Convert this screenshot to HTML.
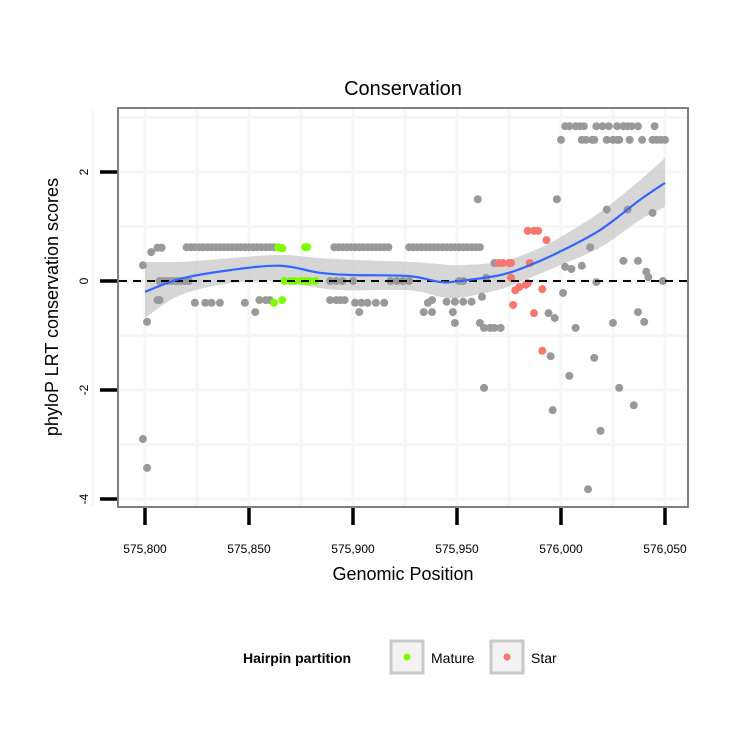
<!DOCTYPE html>
<html><head><meta charset="utf-8"><style>
body{margin:0;background:#fff;font-family:"Liberation Sans",sans-serif}
</style></head><body>
<svg id="chart" width="750" height="750" xmlns="http://www.w3.org/2000/svg">
<rect width="750" height="750" fill="#fff"/>
<g id="grid"></g><g id="band"></g><g id="pts"></g><g id="fit"></g><g id="axes"></g>
<text x="403" y="95" font-size="20" text-anchor="middle">Conservation</text>
<text x="403" y="580" font-size="18" text-anchor="middle">Genomic Position</text>
<text transform="translate(58,307) rotate(-90)" font-size="18" text-anchor="middle">phyloP LRT conservation scores</text>
<g>
<text x="243" y="663" font-size="14" font-weight="bold">Hairpin partition</text>
<g><rect x="391" y="641" width="32" height="32" fill="#f2f2f2" stroke="#c8c8c8" stroke-width="3"/><circle cx="407" cy="657" r="3.5" fill="#7cfc00"/><text x="431" y="663" font-size="14">Mature</text></g>
<g><rect x="491" y="641" width="32" height="32" fill="#f2f2f2" stroke="#c8c8c8" stroke-width="3"/><circle cx="507" cy="657" r="3.5" fill="#f8766d"/><text x="531" y="663" font-size="14">Star</text></g>
</g>
</svg>
<script>
const xTicks=[575800,575850,575900,575950,576000,576050];
const xTickLabels=["575,800","575,850","575,900","575,950","576,000","576,050"];
const yTicks=[2,0,-2,-4];
const yTickLabels=["2","0","-2","-4"];
const grayX=[576002,576004,576007,576009,576011,576017,576020,576023,576027,576030,576032,576034,576037,576045,
576000,576010,576012,576015,576016,576022,576025,576027,576028,576033,576039,576044,576046,576048,576050,
575960,575998,576022,576032,576044,576014,576030,576037,576041,576042,576049,576017,576010,576002,576005,576001,
575803,575806,575808,575799,
575820,575822,575824,575826,575828,575830,575832,575834,575836,575838,575840,575842,575844,575846,575848,575850,575852,575854,575856,575858,575860,575862,
575891,575893,575895,575897,575899,575901,575903,575905,575907,575909,575911,575913,575915,575917,
575927,575929,575931,575933,575935,575937,575939,575941,575943,575945,575947,575949,575951,575953,575955,575957,575959,575961,
575807,575809,575811,575813,575815,575817,575819,575821,575889,575892,575895,575900,575918,575921,575924,575927,575951,575953,
575806,575807,575824,575829,575832,575836,575848,575853,575855,575858,575860,575889,575892,575894,575896,575901,575904,575907,575911,575915,575903,
575938,575936,575934,575938,575945,575949,575953,575957,575948,575949,575961,575963,575966,575968,575971,575962,575968,575964,
575994,575997,576007,576025,576037,576040,575995,576016,576004,576028,576035,575963,575996,576019,576013,575801,575799,575801];
const grayY=[2.84,2.84,2.84,2.84,2.84,2.84,2.84,2.84,2.84,2.84,2.84,2.84,2.84,2.84,
2.59,2.59,2.59,2.59,2.59,2.59,2.59,2.59,2.59,2.59,2.59,2.59,2.59,2.59,2.59,
1.5,1.5,1.31,1.31,1.25,0.62,0.37,0.37,0.17,0.07,0,-0.02,0.28,0.26,0.22,-0.22,
0.53,0.61,0.61,0.29,
0.62,0.62,0.62,0.62,0.62,0.62,0.62,0.62,0.62,0.62,0.62,0.62,0.62,0.62,0.62,0.62,0.62,0.62,0.62,0.62,0.62,0.62,
0.62,0.62,0.62,0.62,0.62,0.62,0.62,0.62,0.62,0.62,0.62,0.62,0.62,0.62,
0.62,0.62,0.62,0.62,0.62,0.62,0.62,0.62,0.62,0.62,0.62,0.62,0.62,0.62,0.62,0.62,0.62,0.62,
0,0,0,0,0,0,0,0,0,0,0,0,0,0,0,0,0,0,
-0.35,-0.35,-0.4,-0.4,-0.4,-0.4,-0.4,-0.57,-0.35,-0.35,-0.35,-0.35,-0.35,-0.35,-0.35,-0.4,-0.4,-0.4,-0.4,-0.4,-0.57,
-0.35,-0.4,-0.57,-0.57,-0.38,-0.38,-0.38,-0.38,-0.57,-0.77,-0.77,-0.86,-0.86,-0.86,-0.86,-0.29,0.33,0.06,
-0.59,-0.68,-0.86,-0.77,-0.57,-0.75,-1.38,-1.41,-1.74,-1.96,-2.28,-1.96,-2.37,-2.75,-3.82,-0.75,-2.9,-3.43];
const starX=[575984,575987,575989,575993,575970,575972,575975,575976,575985,575976,575978,575980,575983,575984,575991,575977,575987,575991];
const starY=[0.92,0.92,0.92,0.75,0.33,0.33,0.33,0.33,0.33,0.06,-0.17,-0.11,-0.07,-0.04,-0.15,-0.44,-0.59,-1.28];
const matureX=[575864,575866,575878,575877,575867,575870,575872,575875,575877,575879,575882,575862,575866];
const matureY=[0.62,0.6,0.62,0.62,0,0,0,0,0,0,0,-0.4,-0.35];
const fitX=[575800,575817,575841,575865,575884,575899,575927,575942,575951,575971,575985,575999,576019,576038,576050];
const fitY=[-0.2,0.04,0.2,0.28,0.15,0.11,0.09,-0.02,0,0.11,0.29,0.53,0.94,1.49,1.8];
const fitUpper=[0.35,0.35,0.42,0.48,0.42,0.39,0.35,0.31,0.29,0.35,0.53,0.79,1.27,1.85,2.26];
const fitLower=[-0.68,-0.26,-0.04,0,-0.13,-0.17,-0.17,-0.29,-0.31,-0.15,0.06,0.28,0.62,1.12,1.36];

const NS="http://www.w3.org/2000/svg";
const X=v=>145+(v-575800)*2.08;
const Y=v=>281-v*54.5;
function mk(t,a,p){const e=document.createElementNS(NS,t);for(const k in a)e.setAttribute(k,a[k]);p.appendChild(e);return e;}
function smooth(P,start){let d=start?'M'+P[0][0]+','+P[0][1]:'L'+P[0][0]+','+P[0][1];
for(let i=0;i<P.length-1;i++){const p0=P[Math.max(i-1,0)],p1=P[i],p2=P[i+1],p3=P[Math.min(i+2,P.length-1)];
d+=`C${p1[0]+(p2[0]-p0[0])/6},${p1[1]+(p2[1]-p0[1])/6} ${p2[0]-(p3[0]-p1[0])/6},${p2[1]-(p3[1]-p1[1])/6} ${p2[0]},${p2[1]}`;}return d;}
const grid=document.getElementById('grid');
mk('rect',{x:118,y:108,width:570,height:399,fill:'#fff'},grid);
[575775,575800,575825,575850,575875,575900,575925,575950,575975,576000,576025,576050].forEach(v=>{const l=mk('line',{x1:X(v),x2:X(v),y1:109,y2:506,stroke:'#f6f6f6','stroke-width':3},grid);

});
[3,2,1,0,-1,-2,-3,-4].forEach(v=>{const l=mk('line',{x1:119,x2:687,y1:Y(v),y2:Y(v),stroke:'#f6f6f6','stroke-width':3},grid);

});
const up=fitX.map((x,i)=>[X(x),Y(fitUpper[i])]);
const lo=fitX.map((x,i)=>[X(x),Y(fitLower[i])]).reverse();
const band=mk('path',{d:smooth(up,true)+smooth(lo,false)+'Z',fill:'#c8c8c8','fill-opacity':0.75},document.getElementById('band'));


const zl=mk('line',{x1:119,x2:687,y1:Y(0),y2:Y(0),stroke:'#000','stroke-width':2,'stroke-dasharray':'8,6'},document.getElementById('fit'));


const pts=document.getElementById('pts');
grayX.forEach((x,i)=>{const c=mk('circle',{cx:X(x),cy:Y(grayY[i]),r:4,fill:'#999'},pts);

});
matureX.forEach((x,i)=>{const c=mk('circle',{cx:X(x),cy:Y(matureY[i]),r:4,fill:'#7cfc00'},pts);

});
starX.forEach((x,i)=>{const c=mk('circle',{cx:X(x),cy:Y(starY[i]),r:4,fill:'#f8766d'},pts);

});
const fit=document.getElementById('fit');
const fl=mk('path',{d:smooth(fitX.map((x,i)=>[X(x),Y(fitY[i])]),true),fill:'none',stroke:'#3366ff','stroke-width':2.2},fit);


const ax=document.getElementById('axes');
const fr=mk('rect',{x:118,y:108,width:570,height:399,fill:'none',stroke:'#7f7f7f','stroke-width':2},ax);


xTicks.forEach((v,i)=>{const t=mk('line',{x1:X(v),x2:X(v),y1:508,y2:525,stroke:'#000','stroke-width':3.5},ax);


const l=mk('text',{x:X(v),y:553,'font-size':12,'text-anchor':'middle'},ax);l.textContent=xTickLabels[i];

});
yTicks.forEach((v,i)=>{const t=mk('line',{x1:100,x2:117,y1:Y(v),y2:Y(v),stroke:'#000','stroke-width':3.5},ax);


const l=mk('text',{transform:`translate(88,${Y(v)}) rotate(-90)`,'font-size':12,'text-anchor':'middle'},ax);l.textContent=yTickLabels[i];

});
</script>
</body></html>
